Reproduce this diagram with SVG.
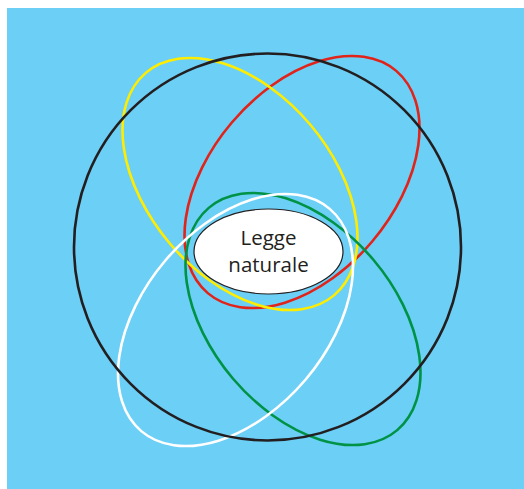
<svg xmlns="http://www.w3.org/2000/svg" width="524" height="489" viewBox="0 0 524 489">
  <style>
    .ring { fill: none; stroke-width: 2.6; }
    .label { font-family: "Open Sans", "Noto Sans", "DejaVu Sans", sans-serif; font-size: 20.5px; fill: #231f20; text-anchor: middle; }
  </style>
  <rect x="7" y="8" width="517" height="481" fill="#6ccff6"/>
  <g id="connectors"/>
  <g id="red-ellipse">
    <ellipse class="ring" cx="302" cy="182" rx="145.7" ry="92" transform="rotate(-49.7 302 182)" stroke="#e2231a"/>
  </g>
  <g id="yellow-ellipse">
    <ellipse class="ring" cx="240" cy="184" rx="145.7" ry="92" transform="rotate(49.7 240 184)" stroke="#ffed00"/>
  </g>
  <g id="green-ellipse">
    <ellipse class="ring" cx="303" cy="319" rx="145.7" ry="92" transform="rotate(49.7 303 319)" stroke="#009245"/>
  </g>
  <g id="white-ellipse">
    <ellipse class="ring" cx="235.5" cy="320" rx="145.7" ry="92" transform="rotate(-49.7 235.5 320)" stroke="#ffffff"/>
  </g>
  <g id="black-circle">
    <circle class="ring" cx="267.5" cy="247" r="193.5" stroke="#231f20"/>
  </g>
  <g id="legge-naturale">
    <ellipse cx="268.5" cy="251.5" rx="74.5" ry="42.5" fill="#ffffff" stroke="#231f20" stroke-width="1.2"/>
    <text class="label" x="268.5" y="245">Legge</text>
    <text class="label" x="268.5" y="272">naturale</text>
  </g>
</svg>
